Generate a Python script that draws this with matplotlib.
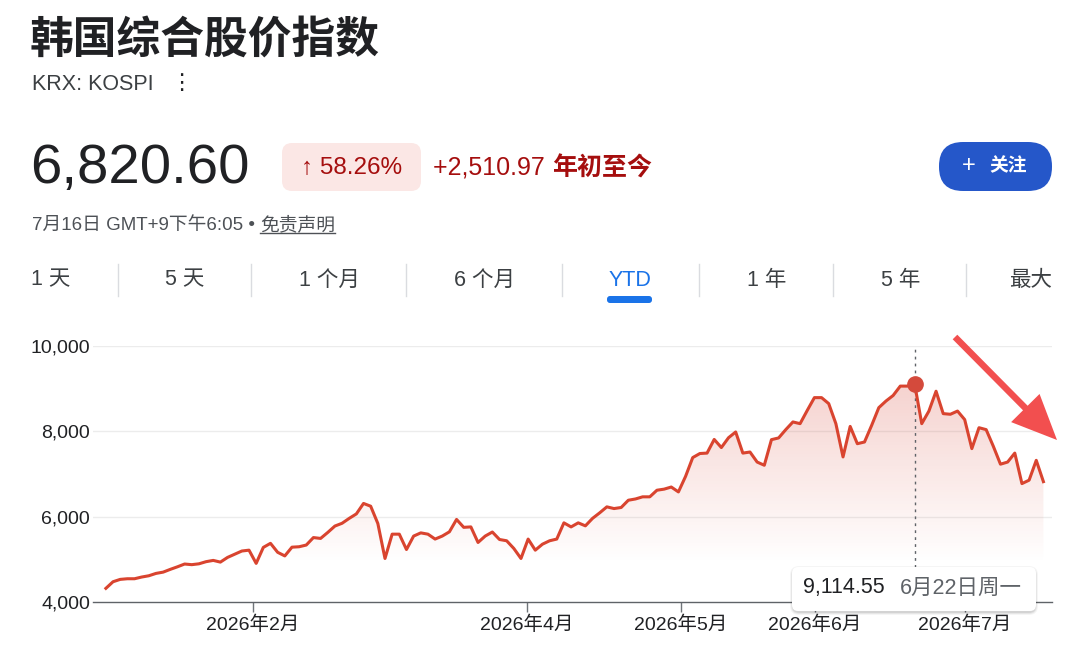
"""
KOSPI year-to-date card, redrawn with matplotlib.
Writes out.png (1080x659).
"""

import matplotlib
matplotlib.use("Agg")
import matplotlib.pyplot as plt
import matplotlib.ticker as mticker
import numpy as np
from matplotlib.lines import Line2D
from matplotlib.patches import FancyArrow, FancyBboxPatch
from matplotlib.transforms import IdentityTransform

plt.rcParams["font.family"] = ["Liberation Sans", "Noto Sans CJK SC", "DejaVu Sans"]

# ---- data -----------------------------------------------------------------
TITLE = "韩国综合股价指数"
SYMBOL = "KRX: KOSPI"
LAST_PRICE = "6,820.60"
CHANGE_PCT = "↑ 58.26%"
CHANGE_ABS = "+2,510.97"
CHANGE_PERIOD = "年初至今"
TIMESTAMP = "7月16日 GMT+9下午6:05 • "
DISCLAIMER = "免责声明"
FOLLOW = "关注"
TABS = ["1 天", "5 天", "1 个月", "6 个月", "YTD", "1 年", "5 年", "最大"]
ACTIVE_TAB = "YTD"

# daily closes, one per trading day (index 0 = first session of the year)
VALUES = [
    4320, 4475, 4530, 4545, 4545, 4585, 4615, 4670, 4700, 4765,
    4825, 4890, 4875, 4895, 4945, 4975, 4935, 5045, 5120, 5195,
    5215, 4905, 5280, 5375, 5165, 5080, 5285, 5295, 5335, 5510,
    5490, 5630, 5780, 5845, 5960, 6065, 6310, 6245, 5840, 5020,
    5590, 5590, 5230, 5545, 5620, 5590, 5475, 5545, 5645, 5935,
    5750, 5760, 5395, 5545, 5640, 5465, 5435, 5255, 5020, 5475,
    5215, 5355, 5435, 5475, 5855, 5760, 5855, 5785, 5960, 6090,
    6230, 6190, 6215, 6385, 6415, 6465, 6465, 6620, 6645, 6695,
    6580, 6945, 7385, 7480, 7490, 7810, 7620, 7850, 7985, 7490,
    7515, 7280, 7205, 7805, 7845, 8040, 8220, 8180, 8490, 8790,
    8790, 8650, 8180, 7400, 8115, 7710, 7750, 8140, 8555, 8710,
    8840, 9060, 9060, 9114.55, 8180, 8475, 8940, 8415, 8400, 8475,
    8275, 7595, 8085, 8040, 7650, 7230, 7280, 7490, 6775, 6855,
    7320, 6820.60,
]
MONTH_TICKS = [20.5, 58.8, 80.3, 99.1, 120.0]          # trading-day index of month start
MONTH_LABELS = ["2026年2月", "2026年4月", "2026年5月", "2026年6月", "2026年7月"]
Y_TICKS = [4000, 6000, 8000, 10000]
PEAK_IDX = 113
PEAK_DATE = "6月22日周一"

# ---- style / layout ---------------------------------------------------------
RED = "#d9442f"
DARK = "#202124"
GREY = "#4d5156"
UP = "#a50e0e"
W, H = 1080, 659
PIX = IdentityTransform()

fig = plt.figure(figsize=(W / 100, H / 100), dpi=100)
fig.patch.set_facecolor("white")


def fx(x):
    return x / W


def fy(y):
    return 1 - y / H


def rbox(x0, y0, x1, y1, r, color, z=1, **kw):
    # rounded box given in top-left pixel coordinates
    p = FancyBboxPatch((x0 + r, H - y1 + r), (x1 - x0) - 2 * r, (y1 - y0) - 2 * r,
                       boxstyle=f"round,pad={r},rounding_size={r}",
                       transform=PIX, facecolor=color, edgecolor="none",
                       zorder=z, **kw)
    fig.add_artist(p)
    return p


# ---- header ---------------------------------------------------------------
fig.text(fx(30), fy(41), TITLE, fontsize=31.5, fontweight="bold", color=DARK,
         va="center", ha="left")
fig.text(fx(32), fy(85), SYMBOL, fontsize=15.5, color="#3c4043", va="center")
fig.text(fx(181), fy(83), "⋮", fontsize=16, color=DARK,
         va="center", ha="center", family=["DejaVu Sans"])

fig.text(fx(30), fy(169), LAST_PRICE, fontsize=40.5, color=DARK, va="center")
rbox(282, 143, 421, 191, 10, "#fbe7e5")
fig.text(fx(352), fy(168), CHANGE_PCT, fontsize=17.5, color=UP,
         va="center", ha="center", zorder=3)
t_abs = fig.text(fx(433), fy(168), CHANGE_ABS + " ", fontsize=18, color=UP,
                 va="center", zorder=3)
fig.canvas.draw()
fig.text(t_abs.get_window_extent().x1 / W, fy(168), CHANGE_PERIOD,
         fontsize=18, fontweight="bold", color=UP, va="center", zorder=3)

rbox(939, 142, 1052, 191, 24, "#2557c9")
fig.text(fx(969), fy(166), "+", fontsize=17, color="white", va="center",
         ha="center", zorder=3)
fig.text(fx(1008), fy(166), FOLLOW, fontsize=13.5, fontweight="bold",
         color="white", va="center", ha="center", zorder=3)

t_stamp = fig.text(fx(32), fy(225), TIMESTAMP, fontsize=13.5, color=GREY,
                   va="center")
fig.canvas.draw()
bb = t_stamp.get_window_extent()
t_disc = fig.text(bb.x1 / W, fy(225), DISCLAIMER, fontsize=13.5, color=GREY,
                  va="center")
fig.canvas.draw()
bd = t_disc.get_window_extent()
fig.add_artist(Line2D([bd.x0, bd.x1], [bd.y0 + 0.5, bd.y0 + 0.5],
                      transform=PIX, color=GREY, lw=1))

# ---- tab row ----------------------------------------------------------------
tab_x = [31, 185, 329, 484, 630, 767, 901, 1052]
for i, (lab, x) in enumerate(zip(TABS, tab_x)):
    ha = "left" if i == 0 else ("right" if i == len(TABS) - 1 else "center")
    col = "#1a73e8" if lab == ACTIVE_TAB else "#3c4043"
    fig.text(fx(x), fy(280), lab, fontsize=15.5, color=col, va="center", ha=ha)
    if lab == ACTIVE_TAB:
        rbox(607, 296, 652, 303, 3, "#1a73e8")
for sx in [118, 251, 406, 562, 699, 833, 966]:
    fig.add_artist(Line2D([sx, sx], [H - 264, H - 296], transform=PIX,
                          color="#dadce0", lw=1))

# ---- chart ------------------------------------------------------------------
ax = fig.add_axes([fx(93), fy(602), (1052 - 93) / W, (602 - 346) / H])
ax.set_facecolor("none")
xs = np.arange(len(VALUES))
vals = np.array(VALUES, dtype=float)

for yv in Y_TICKS[1:]:
    ax.axhline(yv, color="#ececec", lw=1, zorder=0)

# vertical gradient under the line
fill = ax.fill_between(xs, vals, Y_TICKS[0], color="none", lw=0)
levels = np.linspace(Y_TICKS[0], 9300, 256)
alpha = 0.25 * np.clip((levels - 4900) / (9300 - 4900), 0, 1)
rgba = np.zeros((256, 1, 4))
rgba[..., 0], rgba[..., 1], rgba[..., 2] = 0.85, 0.27, 0.21
rgba[:, 0, 3] = alpha
im = ax.imshow(rgba, extent=[xs[0], xs[-1], Y_TICKS[0], 9300], origin="lower",
               aspect="auto", zorder=1, interpolation="bilinear")
im.set_clip_path(fill.get_paths()[0], transform=ax.transData)

ax.plot(xs, vals, color=RED, lw=2.2, solid_joinstyle="round", zorder=3)
ax.axvline(PEAK_IDX, color="#5f6368", lw=1, ls=(0, (2, 3)), zorder=2)
ax.plot(PEAK_IDX, vals[PEAK_IDX], "o", ms=11, color="#d44a3c", zorder=4)

ax.set_xlim(-1.8, 132.2)
ax.set_ylim(Y_TICKS[0], Y_TICKS[-1])
ax.set_yticks(Y_TICKS)
ax.yaxis.set_major_formatter(mticker.FuncFormatter(lambda v, _: f"{v:,.0f}"))
ax.set_xticks(MONTH_TICKS)
ax.set_xticklabels(MONTH_LABELS)
ax.tick_params(axis="y", length=0, pad=2, labelsize=14, labelcolor=DARK)
ax.tick_params(axis="x", length=7.5, width=1, color="#70757a", pad=2,
               labelsize=14, labelcolor=DARK)
for side in ["top", "right", "left"]:
    ax.spines[side].set_visible(False)
ax.spines["bottom"].set_color("#5f6368")
ax.spines["bottom"].set_linewidth(1)

# ---- tooltip ----------------------------------------------------------------
for off, a in [(3, 0.04), (2, 0.06), (1, 0.08)]:
    rbox(792 - off + 1, 567 - off + 2, 1036 + off - 1, 611 + off + 1, 6 + off,
         "black", z=4, alpha=a)
rbox(792, 567, 1036, 611, 6, "white", z=5)
fig.text(fx(803), fy(588), f"{vals[PEAK_IDX]:,.2f}", fontsize=15.5,
         color=DARK, va="center", zorder=6)
fig.text(fx(900), fy(588), PEAK_DATE, fontsize=15.5, color="#5f6368",
         va="center", zorder=6)

# ---- red call-out arrow -----------------------------------------------------
arrow = FancyArrow(955, H - 337, 102, -103, width=6.5, head_width=40,
                   head_length=45, length_includes_head=True,
                   transform=PIX, color="#f24f4f", lw=0, zorder=7)
fig.add_artist(arrow)

fig.savefig("out.png", dpi=100)
